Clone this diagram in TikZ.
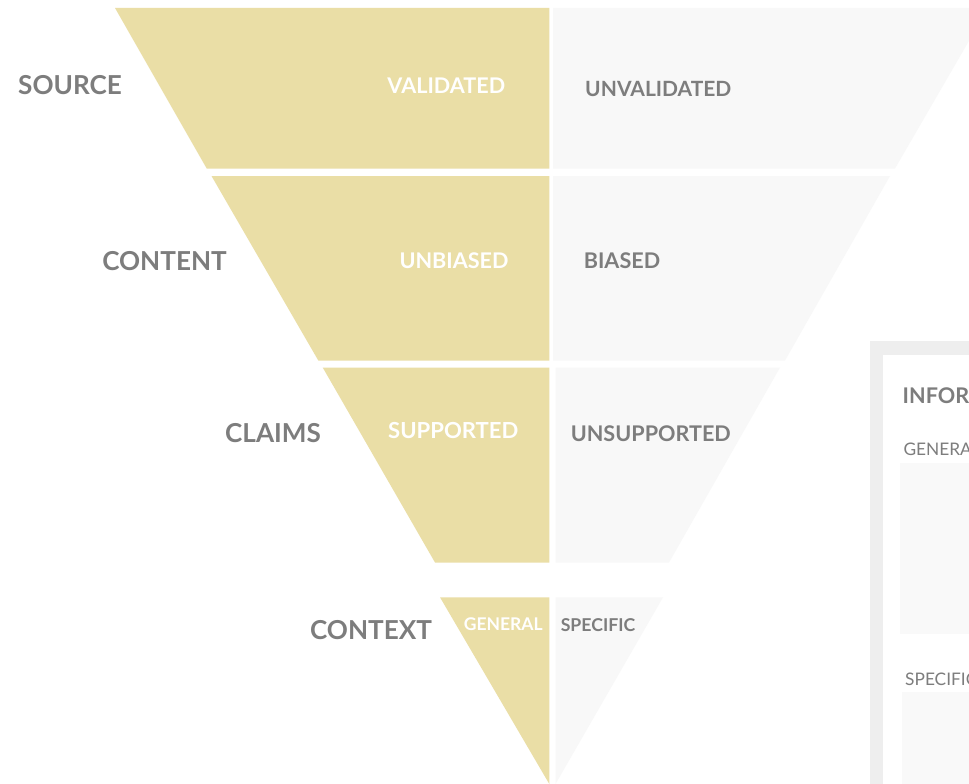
\documentclass[tikz,border=0pt]{standalone}
\usepackage{fontspec}
\setmainfont{Lato}
\definecolor{gold}{RGB}{234,222,166}
\definecolor{pale}{RGB}{248,248,248}
\definecolor{txt}{RGB}{125,125,125}
\definecolor{frame}{RGB}{238,238,238}
\definecolor{boxfill}{RGB}{249,249,249}
\tikzset{
  rowlabel/.style={anchor=base, inner sep=0pt, text=txt, font=\bfseries\fontsize{26.1}{30}\selectfont},
  goldlabel/.style={anchor=base, inner sep=0pt, text=white, font=\bfseries\fontsize{21.6}{24}\selectfont},
  palelabel/.style={anchor=base, inner sep=0pt, text=txt, font=\bfseries\fontsize{21.6}{24}\selectfont},
  smallgold/.style={goldlabel, font=\bfseries\fontsize{17.5}{20}\selectfont},
  smallpale/.style={palelabel, font=\bfseries\fontsize{17.7}{20}\selectfont},
  paneltitle/.style={anchor=base west, inner sep=0pt, text=txt, font=\bfseries\fontsize{21.6}{24}\selectfont},
  panelsub/.style={anchor=base west, inner sep=0pt, text=txt, font=\fontsize{17.3}{20}\selectfont},
}
\begin{document}
\begin{tikzpicture}[x=1pt,y=-1pt]
\useasboundingbox (0,0) rectangle (969,784);
\clip (0,0) rectangle (969,784);
\fill[white] (0,0) rectangle (969,784);
% row 1
\fill[gold] (115,8) -- (549.3,8) -- (549.3,168.5) -- (206.7,168.5) -- cycle;
\fill[pale] (553,8) -- (988,8) -- (895,168.5) -- (553,168.5) -- cycle;
% row 2
\fill[gold] (211.5,176) -- (549.3,176) -- (549.3,360.5) -- (318.3,360.5) -- cycle;
\fill[pale] (553,176) -- (890,176) -- (785,360.5) -- (553,360.5) -- cycle;
% row 3
\fill[gold] (322.7,367.5) -- (549.3,367.5) -- (549.3,562.5) -- (435,562.5) -- cycle;
\fill[pale] (555.5,367.5) -- (780,367.5) -- (669,562.5) -- (555.5,562.5) -- cycle;
% row 4
\fill[gold] (440,597.3) -- (549.3,597.3) -- (549.3,784) -- cycle;
\fill[pale] (555.5,597.3) -- (663,597.3) -- (555.5,784) -- cycle;
% panel
\fill[frame] (870,341) rectangle (980,800);
\fill[white] (882.7,355) rectangle (980,800);
\fill[boxfill] (900,462.7) rectangle (980,634.3);
\fill[boxfill] (902.3,691.7) rectangle (980,800);
% labels
\node[rowlabel] (source) at (70,95) {SOURCE};
\node[rowlabel] (content) at (164.5,270.5) {CONTENT};
\node[rowlabel] (claims) at (273,442.5) {CLAIMS};
\node[rowlabel] (context) at (371,639) {CONTEXT};
\node[goldlabel] (validated) at (446.3,93.3) {VALIDATED};
\node[palelabel, font=\bfseries\fontsize{21}{24}\selectfont] (unvalidated) at (658.3,96.7) {UNVALIDATED};
\node[goldlabel] (unbiased) at (454,268.3) {UNBIASED};
\node[palelabel] (biased) at (622,268.3) {BIASED};
\node[goldlabel, font=\bfseries\fontsize{22.1}{24}\selectfont] (supported) at (453.3,438) {SUPPORTED};
\node[palelabel] (unsupported) at (650.8,441.5) {UNSUPPORTED};
\node[smallgold] (general) at (503.3,630) {GENERAL};
\node[smallpale] (specific) at (598,631) {SPECIFIC};
\node[paneltitle] (info) at (902.5,403.3) {INFORMATION};
\node[panelsub] (pgeneral) at (903.3,455) {GENERAL};
\node[panelsub] (pspecific) at (905,685) {SPECIFIC};
\end{tikzpicture}
\end{document}
